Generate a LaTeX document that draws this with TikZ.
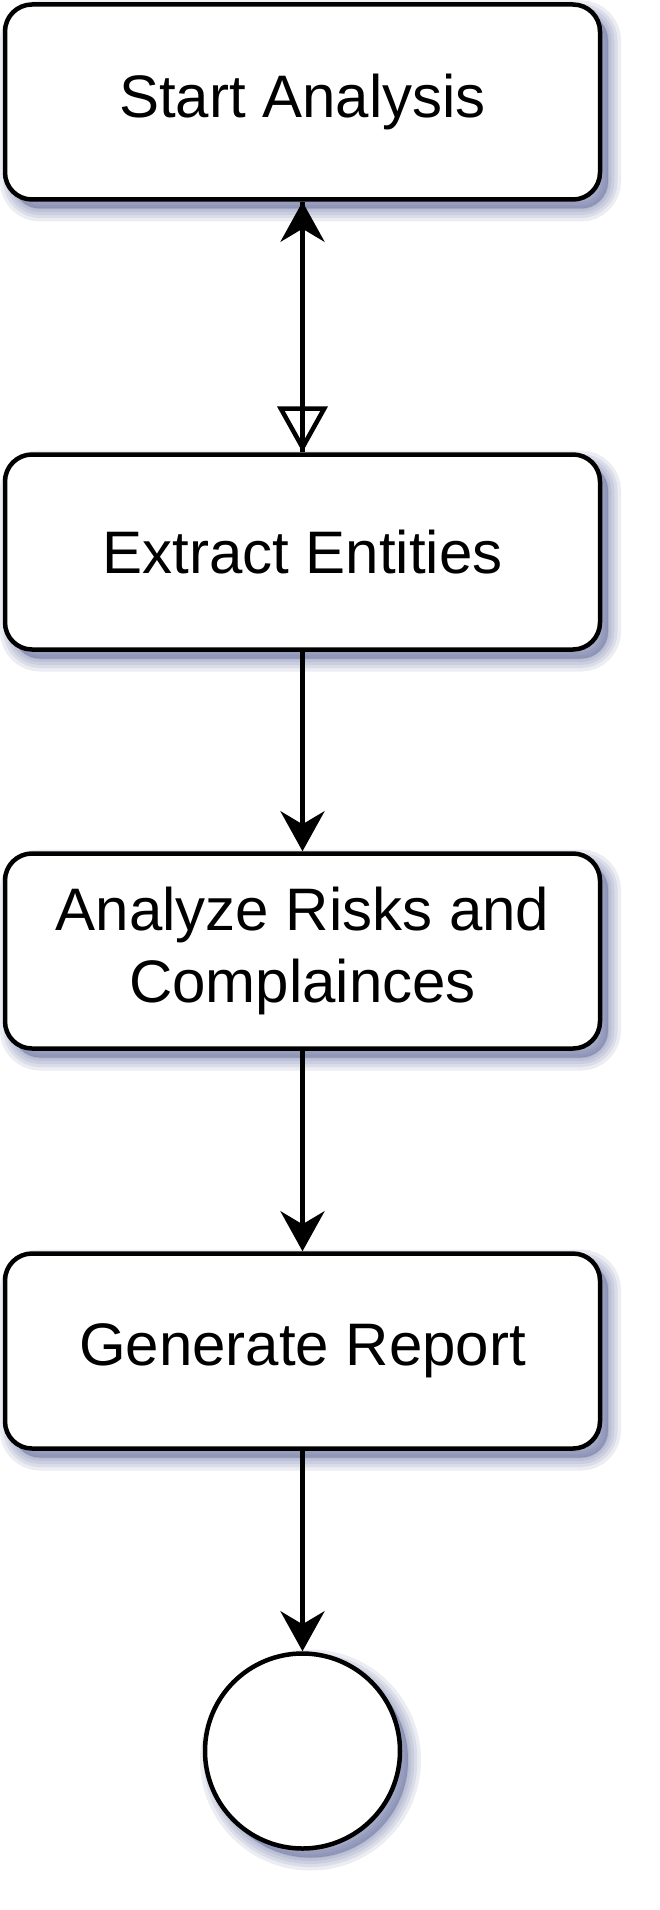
\documentclass[tikz,border=0pt]{standalone}
\usepackage{fontspec}
\setmainfont{Liberation Sans}
\usepackage{xcolor}
\usepackage{tikz}
\usetikzlibrary{positioning, arrows.meta}
\definecolor{flowBlack}{HTML}{000000}
\definecolor{flowShadow}{HTML}{5E6899}

\tikzset{
  shadelayer/.style={preaction={fill=flowShadow, draw=flowShadow, line width=#1,
      opacity=0.12, transform canvas={shift={(8pt,-9pt)}}}},
  softshade/.style={shadelayer=26pt, shadelayer=19pt, shadelayer=13pt,
    shadelayer=7pt, shadelayer=2pt},
  stepbox/.style={draw=flowBlack, fill=white, line width=4.5pt, rounded corners=27pt,
    minimum width=595pt, minimum height=195pt, align=center, softshade},
  endcircle/.style={draw=flowBlack, fill=white, line width=4.5pt, circle,
    minimum size=195pt, inner sep=0pt, softshade},
  flow/.style={draw=flowBlack, line width=4.5pt},
  tipclassic/.style={-{Stealth[length=40pt, width=44pt, inset=13pt]}},
}

\begin{document}
\begin{tikzpicture}[x=1pt, y=1pt, every node/.style={font=\fontsize{60pt}{72pt}\selectfont}]
  \useasboundingbox (0,0) rectangle (660,-1910);

  % steps of the analysis, top to bottom
  \node[stepbox] (start) at (302.5,-102) {Start Analysis};
  \node[stepbox] (extract) at (302.5,-552) {Extract Entities};
  \node[stepbox] (risks) at (302.5,-951) {Analyze Risks and\\Complainces};
  \node[stepbox] (report) at (302.5,-1351) {Generate Report};
  \node[endcircle] (finish) at (302.5,-1751) {};

  % connectors
  \draw[flow] (extract.north) -- (start.south);
  \draw[flow, {Triangle[open, length=46pt, width=50pt]}-{Stealth[length=40pt, width=44pt, inset=13pt]}]
    (extract.north) -- (start.south);
  \draw[flow, tipclassic] (extract.south) -- (risks.north);
  \draw[flow, tipclassic] (risks.south) -- (report.north);
  \draw[flow, tipclassic] (report.south) -- (finish.north);
\end{tikzpicture}
\end{document}
